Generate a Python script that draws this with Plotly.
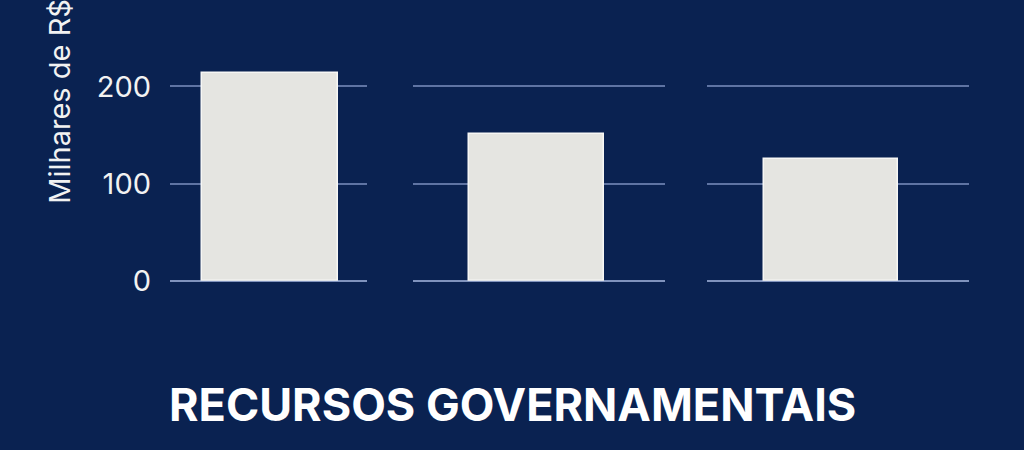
import plotly.graph_objects as go
from plotly.subplots import make_subplots

categories = ["Recurso 1", "Recurso 2", "Recurso 3"]
values = [214, 151, 125]
y_ticks = [0, 100, 200, 300]
y_tick_labels = ["0", "100", "200", "300"]
title_text = "RECURSOS GOVERNAMENTAIS"
y_title = "Milhares de R$"

BG = "#0a2251"
GRID = "#5f74a3"
BAR = "#e5e5e1"
TXT = "#f2f2f2"
W, H = 1024, 470
REF_H = 450


def py(px):
    """paper y fraction for a pixel row of the 1024x450 target"""
    return 1 - px / REF_H


fig = make_subplots(rows=1, cols=3, shared_yaxes=False)

x_domains = [[170 / W, 367 / W], [413 / W, 665 / W], [707 / W, 969 / W]]
x_ranges = [[-0.735, 0.713], [-0.915, 0.952], [-0.925, 1.03]]
y_domain = [py(279), 1.0]
y_range = [0, 289]

for i, (cat, val) in enumerate(zip(categories, values)):
    fig.add_trace(
        go.Bar(
            x=[cat], y=[val], width=1.0,
            marker=dict(color=BAR, line=dict(color="#f7f7f5", width=1.5)),
            showlegend=False, hoverinfo="x+y",
        ),
        row=1, col=i + 1,
    )
    xa = "xaxis" if i == 0 else f"xaxis{i + 1}"
    ya = "yaxis" if i == 0 else f"yaxis{i + 1}"
    fig.layout[xa].update(
        domain=x_domains[i], range=x_ranges[i], showticklabels=False,
        showgrid=False, zeroline=False, showline=False, ticks="",
    )
    fig.layout[ya].update(
        domain=y_domain, range=y_range, tickvals=y_ticks, ticktext=y_tick_labels,
        showticklabels=(i == 0), showgrid=True, gridcolor=GRID, gridwidth=1.5,
        zeroline=True, zerolinecolor="#8093bd", zerolinewidth=2,
        showline=False, ticks="", ticklabelstandoff=18,
        tickfont=dict(family="Inter", size=29, color=TXT),
    )

# tick label of 300 lies just above the visible area (partially cut)
px_per_unit = 279 / y_range[1]
y300_px = 279 - y_ticks[-1] * px_per_unit
fig.add_annotation(
    x=151 / W, xref="paper", xanchor="right",
    y=py(y300_px), yref="paper", yanchor="middle",
    text=y_tick_labels[-1], showarrow=False,
    font=dict(family="Inter", size=29, color=TXT),
)

fig.add_annotation(
    x=60 / W, xref="paper", xanchor="center",
    y=py(101), yref="paper", yanchor="middle",
    text=y_title, textangle=-90, showarrow=False,
    font=dict(family="Inter", size=29, color=TXT),
)

fig.add_annotation(
    x=512 / W, xref="paper", xanchor="center",
    y=py(402), yref="paper", yanchor="middle",
    text=f"<b>{title_text}</b>", showarrow=False,
    font=dict(family="Inter", size=45, color="#ffffff"),
)

fig.update_layout(
    width=W, height=H, autosize=False,
    margin=dict(l=0, r=0, t=0, b=0),
    paper_bgcolor=BG, plot_bgcolor=BG,
    bargap=0,
)

fig.write_html(
    "out.html",
    config={"displayModeBar": False, "responsive": False},
    post_script="document.body.style.margin='0';document.body.style.background='%s';" % BG,
)
